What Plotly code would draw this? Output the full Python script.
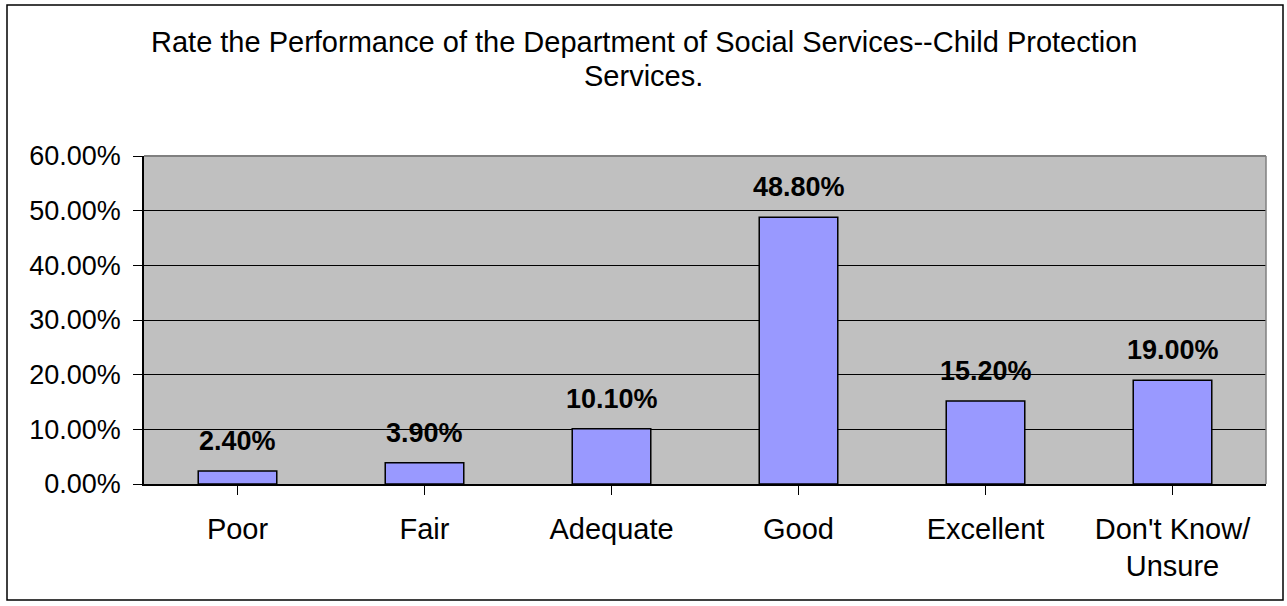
import plotly.graph_objects as go

categories = ["Poor", "Fair", "Adequate", "Good", "Excellent", "Don't Know/<br>Unsure"]
values = [2.4, 3.9, 10.1, 48.8, 15.2, 19.0]
labels = ["2.40%", "3.90%", "10.10%", "48.80%", "15.20%", "19.00%"]
y_ticks = [0, 10, 20, 30, 40, 50, 60]
y_tick_labels = ["0.00%", "10.00%", "20.00%", "30.00%", "40.00%", "50.00%", "60.00%"]
title_lines = ["Rate the Performance of the Department of Social Services--Child Protection",
               "Services."]

W, H = 1287, 606
L, R, T, B = 144, 21, 156, 122
pw, ph = W - L - R, H - T - B

font = "Liberation Sans, Arial, sans-serif"


def px_x(p):
    return (p - L) / pw


def px_y(p):
    return (H - B - p) / ph


fig = go.Figure()
fig.add_trace(go.Bar(
    x=list(range(len(categories))), y=values,
    marker=dict(color="#9999FF", line=dict(color="black", width=1.5)),
    width=0.42,
    hoverinfo="skip",
))

annotations = []
for i, (v, lab) in enumerate(zip(values, labels)):
    annotations.append(dict(
        x=i, y=v, xref="x", yref="y", text="<b>" + lab + "</b>",
        showarrow=False, yanchor="bottom", yshift=13,
        font=dict(family=font, size=27, color="black"),
    ))

for line, yc in zip(title_lines, [42, 76]):
    annotations.append(dict(
        x=0.5 * (px_x(0) + px_x(W)), y=px_y(yc), xref="paper", yref="paper",
        text=line, showarrow=False, xanchor="center", yanchor="middle",
        font=dict(family=font, size=29, color="black"),
    ))

shapes = [
    dict(type="rect", xref="paper", yref="paper",
         x0=px_x(7), x1=px_x(1283), y0=px_y(600), y1=px_y(5),
         line=dict(color="black", width=1.5), layer="below"),
    dict(type="line", xref="paper", yref="paper", x0=0, x1=1, y0=1, y1=1,
         line=dict(color="#808080", width=2)),
    dict(type="line", xref="paper", yref="paper", x0=1, x1=1, y0=0, y1=1,
         line=dict(color="#808080", width=1.5)),
]

fig.update_layout(
    width=W, height=H,
    margin=dict(l=L, r=R, t=T, b=B),
    paper_bgcolor="white",
    plot_bgcolor="#C0C0C0",
    showlegend=False,
    font=dict(family=font, color="black"),
    annotations=annotations,
    shapes=shapes,
    xaxis=dict(
        tickmode="array", tickvals=list(range(len(categories))), ticktext=categories,
        range=[-0.5, len(categories) - 0.5],
        showline=True, linecolor="black", linewidth=1.5,
        ticks="outside", ticklen=9, tickcolor="black", tickwidth=1,
        tickson="boundaries",
        showgrid=False, zeroline=False,
        tickfont=dict(family=font, size=29, color="black"),
        ticklabelstandoff=9,
    ),
    yaxis=dict(
        range=[0, 60], tickmode="array", tickvals=y_ticks, ticktext=y_tick_labels,
        showline=True, linecolor="black", linewidth=1.5,
        ticks="outside", ticklen=9, tickcolor="black", tickwidth=1,
        showgrid=True, gridcolor="black", gridwidth=1,
        zeroline=False,
        tickfont=dict(family=font, size=27, color="black"),
        ticklabelstandoff=7,
    ),
)

fig.write_html("out.html", config={"displayModeBar": False},
               post_script="document.body.style.margin='0';document.body.style.overflow='hidden';")
